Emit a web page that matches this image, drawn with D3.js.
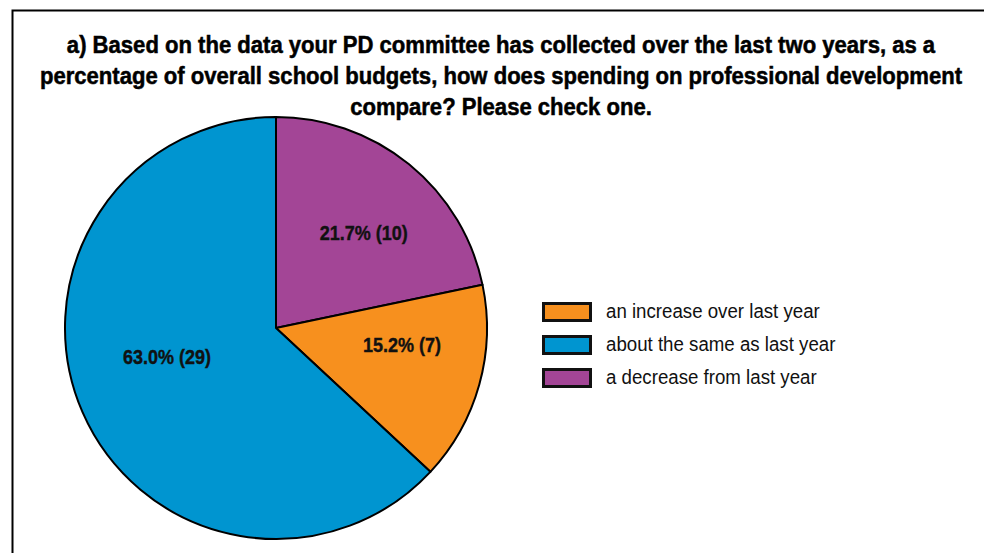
<!DOCTYPE html>
<html>
<head>
<meta charset="utf-8">
<script src="https://cdn.jsdelivr.net/npm/d3@7"></script>
<style>
  html, body { margin: 0; padding: 0; background: #fff; }
  svg { display: block; }
</style>
</head>
<body>
<svg id="chart" width="984" height="553"></svg>
<script>
// Survey responses
const categories = ["an increase over last year", "about the same as last year", "a decrease from last year"];
const counts = [7, 29, 10];
const percents = [15.2, 63.0, 21.7];
const colors = ["#F7901E", "#0095D0", "#A34596"];
// Slices drawn clockwise from 12 o'clock
const drawOrder = [2, 0, 1];
const titleLines = [
  "a) Based on the data your PD committee has collected over the last two years, as a",
  "percentage of overall school budgets, how does spending on professional development",
  "compare? Please check one."
];

const font = "'Liberation Sans', Arial, sans-serif";
const svg = d3.select("#chart");

// Frame
svg.append("rect")
  .attr("x", 12.5).attr("y", 10.5)
  .attr("width", 1000).attr("height", 600)
  .attr("fill", "none").attr("stroke", "#000").attr("stroke-width", 2);

// Title
titleLines.forEach((line, i) => {
  svg.append("text")
    .attr("transform", `translate(501,${53 + i * 31}) scale(0.96,1)`)
    .attr("text-anchor", "middle")
    .attr("font-family", font)
    .attr("font-weight", "bold")
    .attr("font-size", 23)
    .attr("fill", "#000")
    .attr("stroke", "#000")
    .attr("stroke-width", 0.5)
    .text(line);
});

// Pie
const cx = 276, cy = 328, r = 211;
const slices = drawOrder.map(i => ({ idx: i, value: percents[i] }));
const pie = d3.pie().value(d => d.value).sort(null).startAngle(0).endAngle(2 * Math.PI);
const arc = d3.arc().innerRadius(0).outerRadius(r);
const labelArc = d3.arc().innerRadius(r * 0.6).outerRadius(r * 0.6);

const g = svg.append("g").attr("transform", `translate(${cx},${cy})`);
const arcs = pie(slices);
g.selectAll("path.slice")
  .data(arcs)
  .join("path")
  .attr("class", "slice")
  .attr("d", arc)
  .attr("fill", d => colors[d.data.idx])
  .attr("stroke", "#000")
  .attr("stroke-width", 2)
  .attr("stroke-linejoin", "round");

// Small nudges off the centroid so labels sit in the open part of each slice
const labelNudge = { 0: [4, -17], 1: [7, -22], 2: [8, 3] };
const labelPos = d => {
  const [x, y] = labelArc.centroid(d);
  const [nx, ny] = labelNudge[d.data.idx];
  return [x + nx, y + ny];
};
g.selectAll("text.lbl")
  .data(arcs)
  .join("text")
  .attr("class", "lbl")
  .attr("transform", d => `translate(${labelPos(d)}) scale(0.9,1)`)
  .attr("text-anchor", "middle")
  .attr("dy", "0.35em")
  .attr("font-family", font)
  .attr("font-weight", "bold")
  .attr("font-size", 20)
  .attr("fill", "#111")
  .attr("stroke", "#111")
  .attr("stroke-width", 0.4)
  .text(d => `${percents[d.data.idx].toFixed(1)}% (${counts[d.data.idx]})`);

// Legend
const legend = svg.append("g").attr("transform", "translate(542,302)");
const rows = legend.selectAll("g.row")
  .data(categories)
  .join("g")
  .attr("class", "row")
  .attr("transform", (d, i) => `translate(0,${i * 33})`);
rows.append("rect")
  .attr("x", 1.5).attr("y", 1.5)
  .attr("width", 47).attr("height", 17)
  .attr("fill", (d, i) => colors[i])
  .attr("stroke", "#111").attr("stroke-width", 3);
rows.append("text")
  .attr("transform", "translate(64,16) scale(0.89,1)")
  .attr("font-family", font)
  .attr("font-size", 21)
  .attr("fill", "#111")
  .text(d => d);
</script>
</body>
</html>
